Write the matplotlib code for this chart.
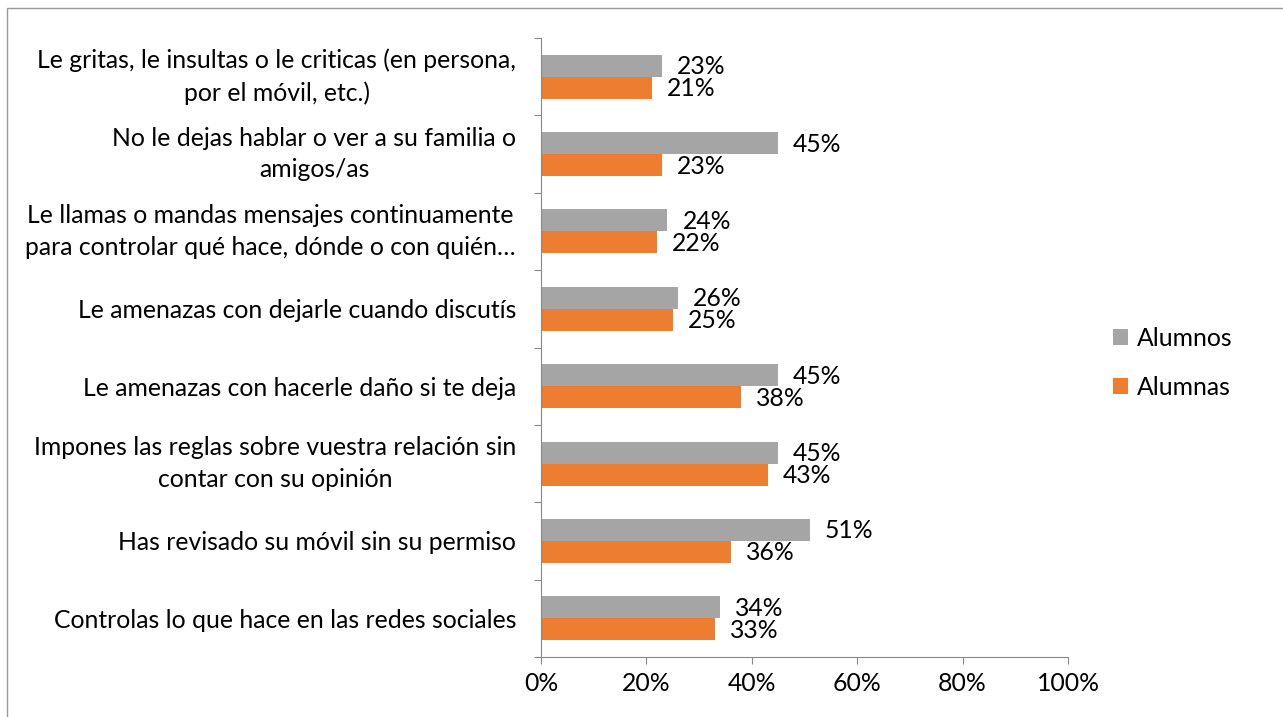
import numpy as np
import matplotlib.pyplot as plt
from matplotlib.patches import Rectangle

categorias = [
    "Le gritas, le insultas o le criticas (en persona,\npor el móvil, etc.)",
    "No le dejas hablar o ver a su familia o\namigos/as",
    "Le llamas o mandas mensajes continuamente\npara controlar qué hace, dónde o con quién…",
    "Le amenazas con dejarle cuando discutís",
    "Le amenazas con hacerle daño si te deja",
    "Impones las reglas sobre vuestra relación sin\ncontar con su opinión",
    "Has revisado su móvil sin su permiso",
    "Controlas lo que hace en las redes sociales",
]
alumnos = [23, 45, 24, 26, 45, 45, 51, 34]
alumnas = [21, 23, 22, 25, 38, 43, 36, 33]
series = ["Alumnos", "Alumnas"]
colores = ["#A5A5A5", "#ED7D31"]
xticks = [0, 20, 40, 60, 80, 100]

plt.rcParams['font.family'] = ['Lato', 'DejaVu Sans']
fs = 17.8

fig = plt.figure(figsize=(12.83, 7.17), dpi=100)
ax = fig.add_axes([541/1283, 1 - 657/717, (1068 - 541)/1283, (657 - 38)/717])

n = len(categorias)
y = np.arange(n)
h = 0.285
b1 = ax.barh(y - h/2, alumnos, height=h, color=colores[0], label=series[0])
b2 = ax.barh(y + h/2, alumnas, height=h, color=colores[1], label=series[1])

for bars, vals in ((b1, alumnos), (b2, alumnas)):
    for rect, v in zip(bars, vals):
        ax.annotate(f"{v}%", (v, rect.get_y() + rect.get_height()/2),
                    xytext=(15, -1), textcoords='offset pixels',
                    ha='left', va='center', fontsize=fs)

ax.set_xlim(0, 100)
ax.set_ylim(n - 0.5, -0.5)
ax.set_xticks(xticks)
ax.set_xticklabels([f"{t}%" for t in xticks], fontsize=fs)
ax.set_yticks(np.arange(-0.5, n, 1))
ax.set_yticklabels([])
ax.set_yticks(y, minor=True)
ax.set_yticklabels(categorias, minor=True, fontsize=fs, multialignment='center',
                   linespacing=1.45)
for lbl in ax.get_yticklabels(minor=True):
    if '\n' in lbl.get_text():
        lbl.set_va('center')
ax.tick_params(axis='y', which='minor', length=0, pad=18)
ax.tick_params(axis='y', which='major', length=5, color='#888888')
ax.tick_params(axis='x', length=5, color='#888888', pad=6)

for s in ('top', 'right'):
    ax.spines[s].set_visible(False)
for s in ('left', 'bottom'):
    ax.spines[s].set_color('#888888')

ax.legend(loc='center left', bbox_to_anchor=(1091/1283, 1 - 363/717),
          bbox_transform=fig.transFigure, frameon=False, fontsize=fs,
          handlelength=0.6, handleheight=0.6, handletextpad=0.35, labelspacing=1.05)

fig.patches.append(Rectangle((7/1283, -0.01), 1.0, 1 - 8/717 + 0.01,
                             transform=fig.transFigure, fill=False,
                             edgecolor='#999999', linewidth=1))

fig.savefig("out.png", dpi=100)
